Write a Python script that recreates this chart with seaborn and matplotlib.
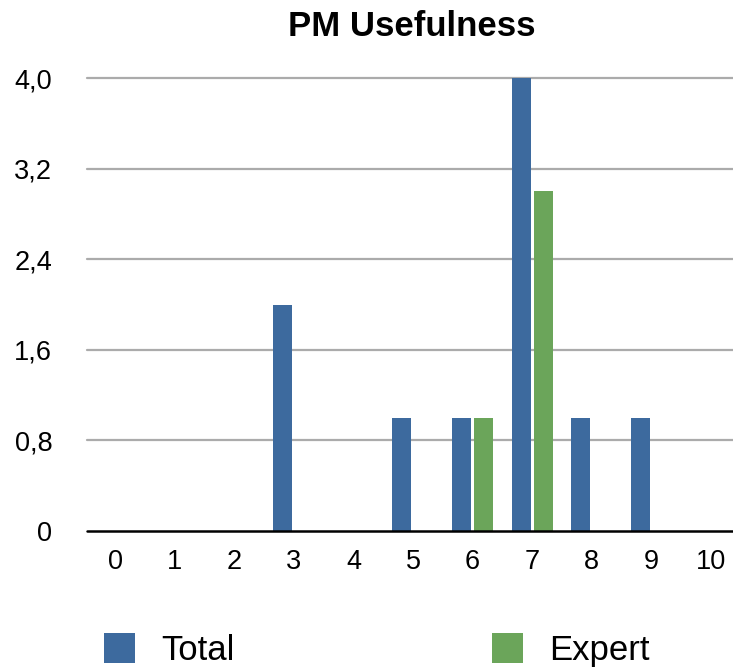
import matplotlib
matplotlib.use("Agg")
import matplotlib.pyplot as plt
from matplotlib.patches import Patch
import seaborn as sns
import pandas as pd

# Ratings scale and response counts per group
ratings = [str(i) for i in range(11)]
total_counts = [0, 0, 0, 2, 0, 1, 1, 4, 1, 1, 0]
expert_counts = [0, 0, 0, 0, 0, 0, 1, 3, 0, 0, 0]
groups = ["Total", "Expert"]
colors = ["#3D6A9E", "#6BA55A"]
y_ticks = [0, 0.8, 1.6, 2.4, 3.2, 4.0]
y_tick_labels = ["0", "0,8", "1,6", "2,4", "3,2", "4,0"]

df = pd.DataFrame({
    "rating": ratings * 2,
    "count": total_counts + expert_counts,
    "group": [groups[0]] * len(ratings) + [groups[1]] * len(ratings),
})

sns.set_theme(style="white")
plt.rcParams["font.family"] = ["Liberation Sans", "DejaVu Sans"]
plt.rcParams["text.color"] = "black"

W, H = 733, 671
fig = plt.figure(figsize=(W / 100, H / 100), dpi=100)
ax = fig.add_axes([87 / W, 1 - 531 / H, 1 - 87 / W, (531 - 78) / H])

sns.barplot(data=df, x="rating", y="count", hue="group", order=ratings,
            hue_order=groups, palette=colors, width=0.74, gap=0.135,
            saturation=1, legend=False, ax=ax, linewidth=0, zorder=3)

ax.set_xlim(-0.47, 10.37)
ax.set_ylim(0, 4.0)
ax.set_yticks(y_ticks)
ax.set_yticklabels(y_tick_labels)
ax.set_xlabel("")
ax.set_ylabel("")

for y in y_ticks[1:]:
    ax.axhline(y, color="#ABABAB", linewidth=1.6, zorder=1, clip_on=False)
ax.axhline(0, color="black", linewidth=1.8, zorder=4, clip_on=False)

for side in ["top", "right", "left", "bottom"]:
    ax.spines[side].set_visible(False)

ax.tick_params(axis="y", length=0, pad=25, labelsize=19.5, labelcolor="black")
ax.tick_params(axis="x", length=0, pad=13, labelsize=19.5, labelcolor="black")

fig.text(412 / W, 1 - 27 / H, "PM Usefulness", ha="center", va="center",
         fontsize=25, fontweight="bold", color="black")

handles = [Patch(facecolor=c, edgecolor="none") for c in colors]
leg = fig.legend(handles, groups, loc="center left",
                 bbox_to_anchor=(104 / W, 1 - 650 / H), ncol=2, frameon=False,
                 fontsize=25, handlelength=0.9, handleheight=0.97,
                 handletextpad=0.75, columnspacing=7.4, borderpad=0,
                 borderaxespad=0)
for t in leg.get_texts():
    t.set_color("black")

fig.savefig("out.png", dpi=100)
